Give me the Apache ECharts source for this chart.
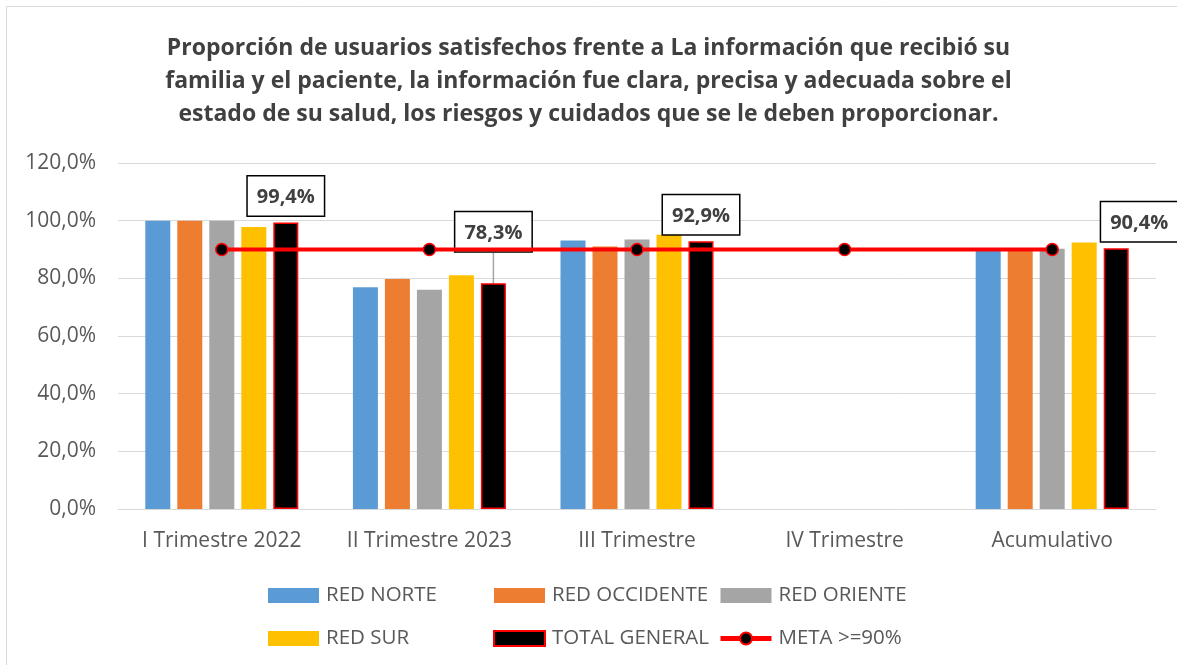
<!DOCTYPE html>
<html>
<head>
<meta charset="utf-8">
<title>Proporción de usuarios satisfechos</title>
<script src="https://cdn.jsdelivr.net/npm/echarts@6/dist/echarts.min.js"></script>
<style>
	html,body{margin:0;padding:0;background:#fff}
	#chart{width:1177px;height:665px}
</style>
</head>
<body>
<div id="chart"></div>
<script>
// datos
var categorias = ['I Trimestre 2022', 'II Trimestre 2023', 'III Trimestre', 'IV Trimestre', 'Acumulativo'];
var redNorte = [100, 76.9, 93.1, null, 90.2];
var redOccidente = [100, 79.8, 91.0, null, 90.1];
var redOriente = [100, 76.0, 93.5, null, 90.3];
var redSur = [97.8, 81.1, 95.1, null, 92.4];
var totalGeneral = [99.4, 78.3, 92.9, null, 90.4];
var meta = [90, 90, 90, 90, 90];
var ejeY = [0, 20, 40, 60, 80, 100, 120];

var fuente = 'Open Sans';
var gris = '#595959';

function pct(v) { return v.toFixed(1).replace('.', ',') + '%'; }

function barra(nombre, datos, color) {
	return {
		name: nombre,
		type: 'bar',
		data: datos,
		barWidth: 25,
		barGap: '28%',
		itemStyle: {color: color},
		z: 2
	};
}

function leyenda(x, nombres) {
	return {
		left: x, top: 585, padding: 0, orient: 'vertical', itemGap: 22,
		itemWidth: 51, itemHeight: 15,
		textStyle: {fontSize: 20.5, color: gris, padding: [0, 0, 0, 2]},
		data: nombres.map(function (n) {
			return n === 'META >=90%' ? {name: n, lineStyle: {width: 5}} : {name: n, icon: 'rect'};
		})
	};
}

var myChart = echarts.init(document.getElementById('chart'));
var option = {
	animation: false,
	backgroundColor: '#fff',
	textStyle: {fontFamily: fuente},
	title: {
		text: 'Proporción de usuarios satisfechos frente a La información que recibió su\nfamilia y el paciente, la información fue clara, precisa y adecuada sobre el\nestado de su salud, los riesgos y cuidados que se le deben proporcionar.',
		left: 'center',
		top: 27,
		textStyle: {fontFamily: fuente, fontSize: 23, fontWeight: 'bold', color: '#404040', lineHeight: 33, align: 'center'}
	},
	graphic: [{
		type: 'rect',
		shape: {x: 6.5, y: 6.5, width: 1200, height: 700},
		style: {fill: null, stroke: '#d9d9d9', lineWidth: 1},
		silent: true
	}],
	grid: {left: 118, right: 21, top: 163, bottom: 156},
	legend: [
		leyenda(268, ['RED NORTE', 'RED SUR']),
		leyenda(493, ['RED OCCIDENTE', 'TOTAL GENERAL']),
		leyenda(718, ['RED ORIENTE', 'META >=90%'])
	],
	xAxis: {
		type: 'category',
		data: categorias,
		axisLine: {lineStyle: {color: '#d9d9d9', width: 1}},
		axisTick: {show: false},
		axisLabel: {fontSize: 21, color: gris, margin: 22, interval: 0}
	},
	yAxis: {
		type: 'value',
		min: ejeY[0],
		max: ejeY[ejeY.length - 1],
		interval: 20,
		axisLine: {show: false},
		axisTick: {show: false},
		splitLine: {lineStyle: {color: '#d9d9d9', width: 1}},
		axisLabel: {fontSize: 21, color: gris, margin: 22, formatter: pct}
	},
	series: [
		barra('RED NORTE', redNorte, '#5b9bd5'),
		barra('RED OCCIDENTE', redOccidente, '#ed7d31'),
		barra('RED ORIENTE', redOriente, '#a5a5a5'),
		barra('RED SUR', redSur, '#ffc000'),
		{
			name: 'TOTAL GENERAL',
			type: 'bar',
			data: totalGeneral.map(function (v, i) {
				return i === 1 ? {value: v, labelLine: {show: true}} : v;
			}),
			barWidth: 25,
			barGap: '28%',
			itemStyle: {color: '#000', borderColor: '#ff0000', borderWidth: 1.5},
			z: 2,
			label: {
				show: true,
				position: 'top',
				distance: 7,
				formatter: function (p) { return pct(p.value); },
				fontSize: 20,
				fontWeight: 'bold',
				color: '#404040',
				backgroundColor: '#fff',
				borderColor: '#000',
				borderWidth: 1.5,
				padding: [11, 9, 8, 9]
			},
			labelLine: {show: false, lineStyle: {color: '#a5a5a5', width: 1.5}},
			labelLayout: function (p) {
				if (p.dataIndex === 1) return {dy: -25};
				if (p.dataIndex === 4) return {dx: 23};
				return {};
			}
		},
		{
			name: 'META >=90%',
			type: 'line',
			data: meta,
			symbol: 'circle',
			symbolSize: 12,
			lineStyle: {color: '#ff0000', width: 4},
			itemStyle: {color: '#000', borderColor: '#ff0000', borderWidth: 1.5},
			z: 5
		}
	]
};
myChart.setOption(option);
</script>
</body>
</html>
